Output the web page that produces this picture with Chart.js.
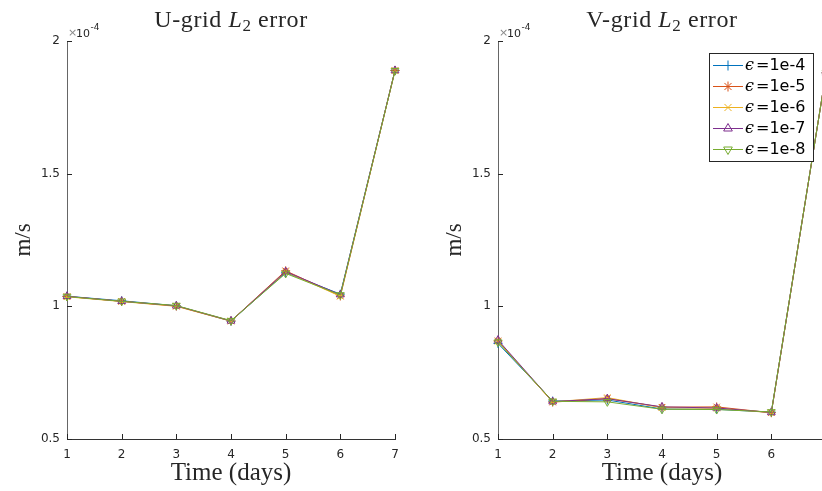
<!DOCTYPE html>
<html>
<head>
<meta charset="utf-8">
<script src="https://cdn.jsdelivr.net/npm/chart.js"></script>
<style>
  html, body { margin: 0; padding: 0; background: #fff; overflow: hidden; }
  #wrap { position: relative; width: 822px; height: 491px; overflow: hidden; }
  canvas { position: absolute; top: 0; }
  #uChart { left: 0; }
  #vChart { left: 431px; }
</style>
</head>
<body>
<div id="wrap">
  <canvas id="uChart" width="421" height="491"></canvas>
  <canvas id="vChart" width="421" height="491"></canvas>
</div>
<script>
// data (values in units of 1e-4 m/s)
const days = [1, 2, 3, 4, 5, 6, 7];
const epsLabels = ['1e-4', '1e-5', '1e-6', '1e-7', '1e-8'];
const yTicks = [0.5, 1, 1.5, 2];

const uErr4 = [1.038, 1.021, 1.002, 0.944, 1.127, 1.046, 1.889];
const uErr5 = [1.037, 1.019, 1.001, 0.945, 1.134, 1.039, 1.889];
const uErr6 = [1.036, 1.018, 1.000, 0.944, 1.130, 1.038, 1.888];
const uErr7 = [1.038, 1.019, 1.002, 0.945, 1.131, 1.044, 1.889];
const uErr8 = [1.037, 1.019, 1.003, 0.946, 1.124, 1.043, 1.888];

const vErr4 = [0.860, 0.643, 0.647, 0.613, 0.612, 0.601, 1.880];
const vErr5 = [0.870, 0.639, 0.652, 0.620, 0.621, 0.599, 1.880];
const vErr6 = [0.868, 0.640, 0.656, 0.618, 0.616, 0.599, 1.880];
const vErr7 = [0.873, 0.641, 0.652, 0.621, 0.617, 0.600, 1.880];
const vErr8 = [0.865, 0.642, 0.640, 0.612, 0.611, 0.602, 1.880];

const uTitle = [['U-grid ', 'n'], ['L', 'i'], ['2', 's'], [' error', 'n']];
const vTitle = [['V-grid ', 'n'], ['L', 'i'], ['2', 's'], [' error', 'n']];

// matlab default line colours and markers
const seriesColors = ['#0072BD', '#D95319', '#EDB120', '#7E2F8E', '#77AC30'];
const markerStyles = ['cross', 'star', 'crossRot', 'triangle', 'triangle'];
const markerRotation = [0, 0, 0, 0, 180];

Chart.defaults.font.family = 'DejaVu Sans';
Chart.defaults.color = '#262626';

const serif = 'Liberation Serif';

function drawPieces(ctx, parts, cx, baseline, size) {
  const fontFor = s => s === 'i' ? `italic ${size}px ${serif}` : s === 's' ? `${Math.round(size * 0.7)}px ${serif}` : `${size}px ${serif}`;
  ctx.letterSpacing = '0.6px';
  let total = 0;
  parts.forEach(p => { ctx.font = fontFor(p[1]); total += ctx.measureText(p[0]).width; });
  let x = cx - total / 2;
  ctx.textAlign = 'left';
  ctx.textBaseline = 'alphabetic';
  parts.forEach(p => {
    ctx.font = fontFor(p[1]);
    ctx.fillText(p[0], x, baseline + (p[1] === 's' ? 4 : 0));
    x += ctx.measureText(p[0]).width;
  });
  ctx.letterSpacing = '0px';
}

const decorPlugin = {
  id: 'decor',
  afterDraw(chart, args, opts) {
    const ctx = chart.ctx;
    const area = chart.chartArea;
    const xs = chart.scales.x, ys = chart.scales.y;
    ctx.save();

    // inward tick marks
    ctx.strokeStyle = '#262626';
    ctx.lineWidth = 1;
    ctx.beginPath();
    xs.ticks.forEach(t => {
      const px = Math.round(xs.getPixelForValue(t.value)) + 0.5;
      ctx.moveTo(px, area.bottom);
      ctx.lineTo(px, area.bottom - 5);
    });
    ys.ticks.forEach(t => {
      const py = Math.round(ys.getPixelForValue(t.value)) + 0.5;
      ctx.moveTo(area.left, py);
      ctx.lineTo(area.left + 5, py);
    });
    ctx.stroke();

    // title
    ctx.fillStyle = '#262626';
    drawPieces(ctx, opts.title, (area.left + area.right) / 2, 27, 24);

    // exponent label
    ctx.textAlign = 'left';
    ctx.textBaseline = 'alphabetic';
    ctx.fillStyle = '#8a8a8a';
    ctx.font = '11px DejaVu Sans';
    ctx.fillText('×', area.left + 1, 36);
    ctx.fillStyle = '#262626';
    ctx.font = '11px DejaVu Sans';
    const tenW = ctx.measureText('10').width;
    ctx.fillText('10', area.left + 9, 37);
    ctx.font = '9px DejaVu Sans';
    ctx.fillText('-4', area.left + 9 + tenW + 0.5, 30);

    // legend
    if (opts.legend) {
      const w = 104, h = 108;
      const x0 = area.right - 13 - w, y0 = 53;
      ctx.fillStyle = '#fff';
      ctx.fillRect(x0, y0, w, h);
      ctx.strokeStyle = '#262626';
      ctx.strokeRect(x0 + 0.5, y0 + 0.5, w, h);
      chart.data.datasets.forEach((ds, i) => {
        const ry = y0 + 12 + i * 21;
        ctx.strokeStyle = ds.borderColor;
        ctx.lineWidth = 1;
        ctx.beginPath();
        ctx.moveTo(x0 + 4, ry + 0.5);
        ctx.lineTo(x0 + 34, ry + 0.5);
        ctx.stroke();
        ctx.fillStyle = 'rgba(0,0,0,0)';
        Chart.helpers.drawPoint(ctx, {
          pointStyle: ds.pointStyle, rotation: ds.pointRotation,
          radius: 5, borderWidth: 1
        }, x0 + 19, ry + 0.5);
        ctx.fillStyle = '#000';
        ctx.textBaseline = 'middle';
        ctx.font = 'italic 16px DejaVu Serif';
        ctx.fillText('ϵ', x0 + 36, ry + 1);
        ctx.font = '16px DejaVu Sans';
        ctx.fillText('=' + epsLabels[i], x0 + 47, ry + 1);
      });
    }
    ctx.restore();
  }
};

function makeChart(id, seriesList, title, showLegend) {
  const datasets = seriesList.map((vals, i) => ({
    label: 'ϵ =' + epsLabels[i],
    data: days.map((d, k) => ({ x: d, y: vals[k] })),
    borderColor: seriesColors[i],
    backgroundColor: 'rgba(0,0,0,0)',
    borderWidth: 1,
    pointStyle: markerStyles[i],
    pointRotation: markerRotation[i],
    pointRadius: 4.5,
    pointBorderWidth: 1,
    order: 5 - i,
    clip: false
  }));
  return new Chart(document.getElementById(id), {
    type: 'line',
    data: { datasets },
    options: {
      responsive: false,
      animation: false,
      layout: { padding: { top: 41, right: 26, left: 0, bottom: 0 } },
      plugins: {
        legend: { display: false },
        tooltip: { enabled: false },
        decor: { title: title, legend: showLegend }
      },
      scales: {
        x: {
          type: 'linear', min: 1, max: 7,
          afterBuildTicks: s => { s.ticks = days.map(v => ({ value: v })); },
          afterFit: s => { s.height = 52; },
          grid: { display: false, drawTicks: false },
          border: { display: true, color: '#333', width: 1 },
          ticks: { padding: 9, font: { size: 12 }, color: '#262626', callback: v => String(v) },
          title: { display: true, text: 'Time (days)', font: { family: serif, size: 25 }, color: '#262626', padding: { top: 3, bottom: 3 } }
        },
        y: {
          min: 0.5, max: 2,
          afterBuildTicks: s => { s.ticks = yTicks.map(v => ({ value: v })); },
          afterFit: s => { s.width = 67; },
          grid: { display: false, drawTicks: false },
          border: { display: true, color: '#666', width: 1 },
          ticks: { padding: 7, font: { size: 12 }, color: '#262626', callback: v => String(v) },
          title: { display: true, text: 'm/s', font: { family: serif, size: 23 }, color: '#262626', padding: { top: 10, bottom: 0 } }
        }
      }
    },
    plugins: [decorPlugin]
  });
}

makeChart('uChart', [uErr4, uErr5, uErr6, uErr7, uErr8], uTitle, false);
makeChart('vChart', [vErr4, vErr5, vErr6, vErr7, vErr8], vTitle, true);
</script>
</body>
</html>
